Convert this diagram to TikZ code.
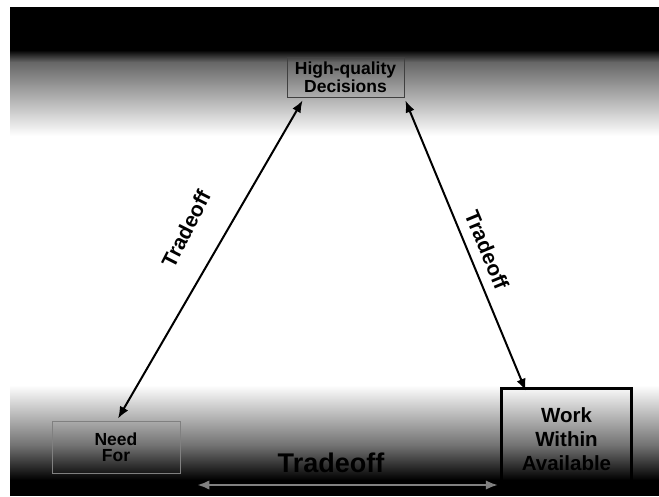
\documentclass[tikz,border=0pt]{standalone}
\usepackage{fontspec}
\setmainfont{Liberation Sans}
\usetikzlibrary{arrows.meta}
\begin{document}
\begin{tikzpicture}[x=1pt,y=-1pt,
  box/.style={draw, inner sep=0pt, align=center, text=black},
  link/.style={line width=2pt,
    {Latex[length=12pt,width=9.5pt]}-{Latex[length=12pt,width=9.5pt]}},
  lbl/.style={font=\bfseries\fontsize{21}{24}\selectfont, inner sep=0pt}]
\useasboundingbox (0,0) rectangle (659,496);
% backdrop: dark bands at top and bottom fading into a white middle
\fill[white] (0,0) rectangle (659,496);
\fill[black] (10,7) rectangle (659,50);
\shade[top color=black, bottom color=black!60] (10,50) rectangle (659,62);
\shade[top color=black!60, bottom color=white] (10,62) rectangle (659,136);
\shade[top color=white, bottom color=black!55] (10,385) rectangle (659,445);
\shade[top color=black!55, bottom color=black] (10,445) rectangle (659,480);
\fill[black] (10,480) rectangle (659,496);

% the three goals
\node[box, draw=black!75, line width=0.8pt, minimum width=117pt,
  minimum height=40pt, font=\bfseries\fontsize{17.5}{18}\selectfont]
  (hq) at (345.5,77) {High-quality\\Decisions};
\node[box, draw=black!50, line width=0.8pt, minimum width=128pt,
  minimum height=52pt, font=\bfseries\fontsize{17.5}{16}\selectfont]
  (need) at (116,447) {Need\\For};
\node[box, line width=3.5pt, minimum width=130pt, minimum height=102pt,
  font=\bfseries\fontsize{20.5}{24}\selectfont] (work) at (566.5,439.5)
  {Work\\Within\\Available};

% tradeoff arrows
\draw[link] ([xshift=16pt,yshift=-3pt]hq.south west)
  -- ([xshift=2pt,yshift=2pt]need.north);
\draw[link] ([xshift=1pt,yshift=-3pt]hq.south east)
  -- ([xshift=26pt,yshift=-4pt]work.north west);
\draw[link, black!50] ([xshift=17pt,yshift=-38pt]need.east)
  -- ([xshift=-2pt,yshift=-45.5pt]work.west);

\node[lbl, rotate=63] (tl) at (186,229) {Tradeoff};
\node[lbl, rotate=-67.5] (tr) at (487,250) {Tradeoff};
\node[lbl, font=\bfseries\fontsize{27}{30}\selectfont] (tb) at (331,463)
  {Tradeoff};
\end{tikzpicture}
\end{document}
